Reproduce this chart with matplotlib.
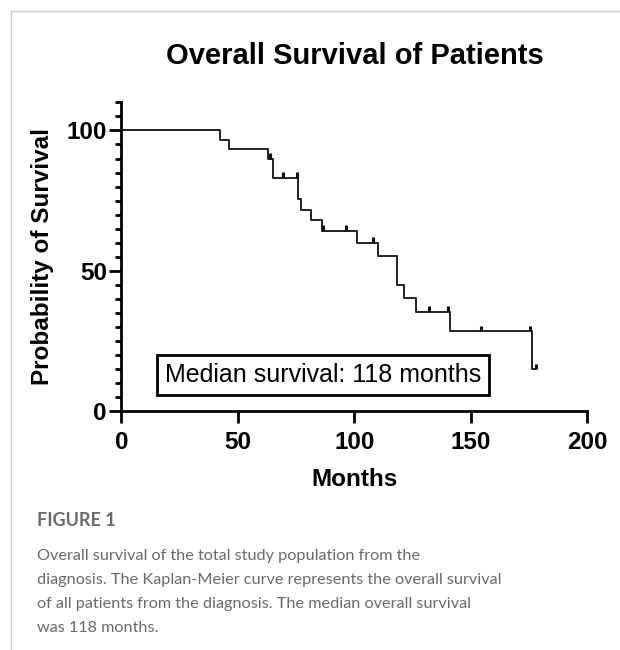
import numpy as np
import matplotlib
matplotlib.use("Agg")
import matplotlib.pyplot as plt
from matplotlib.lines import Line2D

# ------------------------------------------
# Data
# ------------------------------------------

event_months = [42.3, 46.2, 63.1, 65.0, 76.0, 77.0, 81.5, 86.0, 101.1, 110.0,
                118.2, 121.4, 126.6, 141.1, 176.2]
survival = [96.7, 93.3, 90.0, 83.1, 75.5, 71.8, 68.0, 64.2, 59.9, 55.3,
            45.0, 40.2, 35.4, 28.4, 14.9]
censor_months = [63.6, 69.3, 75.3, 86.4, 96.3, 108.2, 132.2, 140.4, 154.3,
                 175.5, 178.1]
last_followup = 178.1

x_ticks = [0, 50, 100, 150, 200]
y_ticks = [0, 50, 100]

title = "Overall Survival of Patients"
median_text = "Median survival: 118 months"
caption_head = "FIGURE 1"
caption_lines = [
    "Overall survival of the total study population from the",
    "diagnosis. The Kaplan-Meier curve represents the overall survival",
    "of all patients from the diagnosis. The median overall survival",
    "was 118 months.",
]

plt.rcParams["font.family"] = ["Liberation Sans", "DejaVu Sans"]

fig = plt.figure(figsize=(6.2, 6.5), dpi=100)
ax = fig.add_axes([121.5 / 620, 1 - 411 / 650, 465.5 / 620, 308.6 / 650])

# step curve
xs = [0] + event_months + [last_followup]
ys = [100] + survival + [survival[-1]]
ax.step(xs, ys, where="post", color="#222222", lw=1.4, clip_on=False)

# censor ticks (drawn upward from the curve)
ev = np.array(event_months)
surv = np.array([100] + survival)
censor_levels = surv[np.searchsorted(ev, censor_months, side="right")]
ax.vlines(censor_months, censor_levels, censor_levels + 2.0,
          color="#111111", lw=2.2, clip_on=False)

# axes styling
ax.set_xlim(0, 200)
ax.set_ylim(0, 110)
for s in ["top", "right"]:
    ax.spines[s].set_visible(False)
for s in ["left", "bottom"]:
    ax.spines[s].set_linewidth(2)
ax.set_xticks(x_ticks)
ax.set_yticks(y_ticks)
ax.set_yticks(np.arange(0, 111, 5), minor=True)
ax.tick_params(axis="both", which="major", length=8.5, width=2,
               labelsize=17.5)
ax.tick_params(axis="y", which="major", pad=2)
ax.tick_params(axis="x", which="major", pad=6)
ax.tick_params(axis="y", which="minor", length=4.3, width=2)
for lbl in ax.get_xticklabels() + ax.get_yticklabels():
    lbl.set_fontweight("bold")

ax.set_xlabel("Months", fontsize=17.5, fontweight="bold", labelpad=10)
ax.set_ylabel("Probability of Survival", fontsize=17.5, fontweight="bold",
              labelpad=9)

fig.text(355 / 620, 1 - 56 / 650, title, ha="center", va="center",
         fontsize=21, fontweight="bold")

# median annotation box
fig.text(323 / 620, 1 - 375 / 650, median_text, ha="center", va="center",
         fontsize=18,
         bbox=dict(boxstyle="square,pad=0.32", facecolor="white",
                   edgecolor="black", linewidth=2))

# caption
fig.text(37 / 620, 1 - 521 / 650, caption_head, ha="left", va="center",
         fontsize=13, fontweight="bold", color="#6a6a6a", family="Lato")
for i, line in enumerate(caption_lines):
    fig.text(37 / 620, 1 - (556 + 24 * i) / 650, line, ha="left",
             va="center", fontsize=11.7, color="#6a6a6a", family="Lato")

# page border
fig.add_artist(Line2D([10.5 / 620, 10.5 / 620], [0, 1 - 10.5 / 650],
                      transform=fig.transFigure, color="#d0d0d0", lw=1))
fig.add_artist(Line2D([10.5 / 620, 1], [1 - 10.5 / 650, 1 - 10.5 / 650],
                      transform=fig.transFigure, color="#d0d0d0", lw=1))

fig.savefig("out.png", dpi=100)
